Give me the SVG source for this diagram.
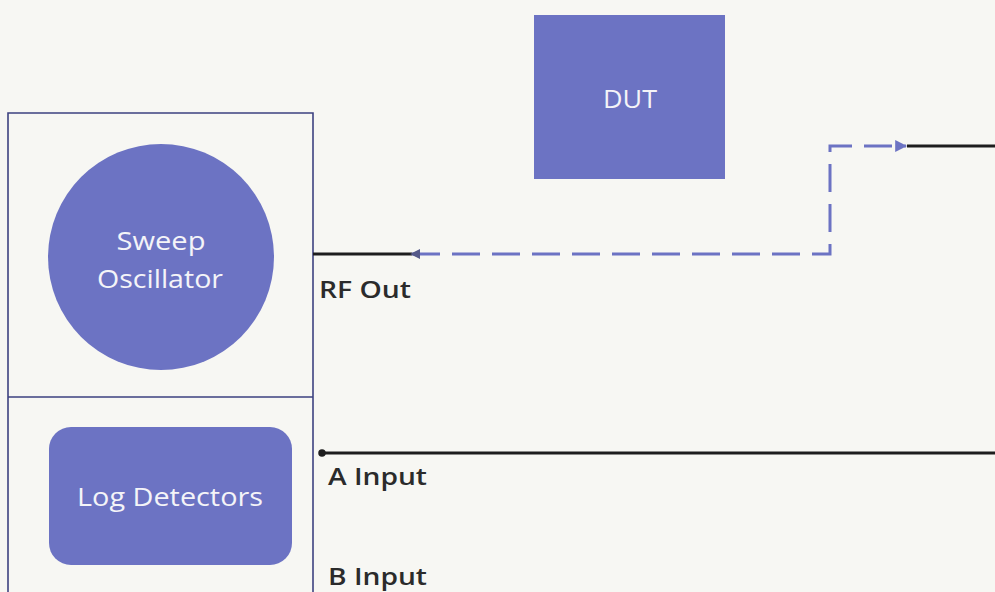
<svg xmlns="http://www.w3.org/2000/svg" width="995" height="592" viewBox="0 0 995 592">
<defs>
<style>
.node{fill:#6c73c3;}
.ntext{fill:#f4f4f8;font-family:"Open Sans","Liberation Sans",sans-serif;font-size:25px;text-anchor:middle;}
.label{fill:#2b2b2b;font-family:"Open Sans","Liberation Sans",sans-serif;font-size:24px;font-weight:600;}
.frame{fill:none;stroke:#3d4280;stroke-width:1.6;}
.solid{fill:none;stroke:#1e1e1e;stroke-width:3;}
.dash{fill:none;stroke:#6c73c3;stroke-width:3;stroke-dasharray:28 12;}
</style>
<marker id="arrBlue" viewBox="0 0 10 10" refX="9" refY="5" markerWidth="4" markerHeight="4" orient="auto">
<path d="M0,0 L10,5 L0,10 z" fill="#6c73c3"/>
</marker>
<marker id="dot" viewBox="0 0 10 10" refX="5" refY="5" markerWidth="2.5" markerHeight="2.5">
<circle cx="5" cy="5" r="5" fill="#1e1e1e"/>
</marker>
</defs>
<rect width="995" height="592" fill="#f7f7f3"/>
<g id="instrument">
<path class="frame" d="M8,600 L8,113 L313,113 L313,600 M8,397 L313,397"/>
</g>
<g id="dut">
<rect class="node" x="534" y="15" width="191" height="164"/>
<text class="ntext" x="630" y="108" textLength="54" lengthAdjust="spacingAndGlyphs">DUT</text>
</g>
<g id="sweep-oscillator">
<circle class="node" cx="161" cy="257" r="113"/>
<text class="ntext" x="161" y="250" textLength="89" lengthAdjust="spacingAndGlyphs">Sweep</text>
<text class="ntext" x="160" y="288" textLength="126" lengthAdjust="spacingAndGlyphs">Oscillator</text>
</g>
<g id="log-detectors">
<rect class="node" x="49" y="427" width="243" height="138" rx="22" ry="22"/>
<text class="ntext" x="170" y="506" textLength="186" lengthAdjust="spacingAndGlyphs">Log Detectors</text>
</g>
<g id="connectors">
<path class="solid" d="M313,254 L412,254"/>
<path class="dash" d="M412,254 L830,254 L830,146 L906,146" marker-end="url(#arrBlue)"/>
<path d="M420,249 L410,254 L420,259 z" fill="#555a8a"/>
<path class="solid" d="M907,146 L995,146"/>
<path class="solid" d="M322,453 L995,453" marker-start="url(#dot)"/>
</g>
<g id="labels">
<text class="label" x="319" y="298" textLength="92" lengthAdjust="spacingAndGlyphs">RF Out</text>
<text class="label" x="328" y="485" textLength="99" lengthAdjust="spacingAndGlyphs">A Input</text>
<text class="label" x="328" y="585" textLength="99" lengthAdjust="spacingAndGlyphs">B Input</text>
</g>
</svg>
